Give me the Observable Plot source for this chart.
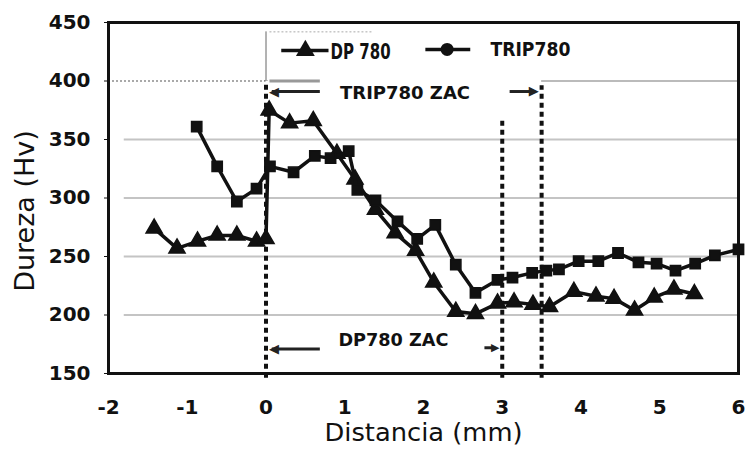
<!DOCTYPE html>
<html>
<head>
<meta charset="utf-8">
<script src="https://cdn.jsdelivr.net/npm/d3@7"></script>
<script src="https://cdn.jsdelivr.net/npm/@observablehq/plot@0.6"></script>
<style>
  html, body { margin: 0; padding: 0; background: #fff; }
</style>
</head>
<body>
<div id="chart"></div>
<script>
// ---- data ----
const xTicks = [-2, -1, 0, 1, 2, 3, 4, 5, 6];
const yTicks = [150, 200, 250, 300, 350, 400, 450];
const gridValues = [200, 250, 300, 350];

const seriesNames = ["DP 780", "TRIP780"];

const dpX = [-1.42, -1.13, -0.87, -0.62, -0.37, -0.12, 0.0, 0.04, 0.3, 0.6, 0.9, 1.13, 1.39, 1.64, 1.9, 2.13, 2.41, 2.66, 2.94, 3.15, 3.39, 3.6, 3.91, 4.19, 4.42, 4.68, 4.93, 5.18, 5.44];
const dpY = [274, 257, 263, 268, 268, 263, 265, 375, 364, 366, 338, 316, 290, 270, 255, 228, 203, 201, 210, 211, 209, 207, 220, 216, 214, 204, 215, 222, 218];

const trX = [-0.88, -0.62, -0.37, -0.12, 0.05, 0.35, 0.62, 0.82, 1.05, 1.16, 1.39, 1.67, 1.92, 2.15, 2.41, 2.66, 2.94, 3.13, 3.38, 3.56, 3.72, 3.97, 4.22, 4.47, 4.73, 4.96, 5.2, 5.45, 5.7, 6.0];
const trY = [361, 327, 297, 308, 327, 322, 336, 334, 340, 307, 298, 280, 265, 277, 243, 219, 230, 232, 236, 238, 239, 246, 246, 253, 245, 244, 238, 244, 251, 256];

const zoneLines = [0, 3, 3.5];           // vertical dashed lines (mm)
const zoneLabels = ["TRIP780 ZAC", "DP780 ZAC"];

const xLabel = "Distancia (mm)";
const yLabel = "Dureza (Hv)";

// ---- tables ----
const dp = dpX.map((x, i) => ({x, y: dpY[i]}));
const tr = trX.map((x, i) => ({x, y: trY[i]}));

const font = "'DejaVu Sans', 'Liberation Sans', sans-serif";
const ink = "#111";

const chart = Plot.plot({
  width: 749,
  height: 457,
  marginLeft: 108,
  marginRight: 11,
  marginTop: 22,
  marginBottom: 84,
  style: {fontFamily: font, background: "#fff", color: ink},
  x: {domain: [-2, 6]},
  y: {domain: [150, 450]},
  marks: [
    // grid
    Plot.ruleY(gridValues, {x1: -1.8, x2: 6, stroke: "#c4c4c4", strokeWidth: 2}),
    Plot.ruleY([400], {x1: -2, x2: 0, stroke: "#555", strokeWidth: 1.2, strokeDasharray: "2,2"}),
    Plot.ruleY([400], {x1: 3.5, x2: 6, stroke: "#bbb", strokeWidth: 2}),
    // legend gray bar and thin top line
    Plot.ruleY([400], {x1: 0.05, x2: 0.69, stroke: "#999", strokeWidth: 3}),
    Plot.ruleY([442], {x1: 0.05, x2: 1.35, stroke: "#aaa", strokeWidth: 1, strokeDasharray: "2,2"}),

    // vertical zone lines
    Plot.ruleX([zoneLines[0]], {y1: 146, y2: 400, stroke: ink, strokeWidth: 4, strokeDasharray: "5,4"}),
    Plot.ruleX([zoneLines[0]], {y1: 400, y2: 442, stroke: "#666", strokeWidth: 1}),
    Plot.ruleX([zoneLines[1]], {y1: 146, y2: 366, stroke: ink, strokeWidth: 4, strokeDasharray: "5,4"}),
    Plot.ruleX([zoneLines[2]], {y1: 146, y2: 396, stroke: ink, strokeWidth: 4, strokeDasharray: "5,4"}),

    // series
    Plot.line(dp, {x: "x", y: "y", stroke: ink, strokeWidth: 3.5}),
    Plot.dot(dp, {x: "x", y: "y", symbol: "triangle", r: 6, fill: ink, stroke: ink}),
    Plot.line(tr, {x: "x", y: "y", stroke: ink, strokeWidth: 3.5}),
    Plot.dot(tr, {x: "x", y: "y", symbol: "square", r: 5.8, fill: ink, stroke: ink}),

    // legend
    Plot.ruleY([426], {x1: 0.2, x2: 0.8, stroke: ink, strokeWidth: 3.5}),
    Plot.dot([{x: 0.5, y: 426}], {x: "x", y: "y", symbol: "triangle", r: 7, fill: ink}),
    Plot.text([seriesNames[0]], {x: 0.82, y: 425, textAnchor: "start", fontSize: 22, fontWeight: "bold", fill: ink, className: "lg-dp"}),
    Plot.ruleY([427], {x1: 2.03, x2: 2.6, stroke: ink, strokeWidth: 3.5}),
    Plot.dot([{x: 2.3, y: 427}], {x: "x", y: "y", symbol: "circle", r: 6.5, fill: ink}),
    Plot.text([seriesNames[1]], {x: 2.85, y: 427, textAnchor: "start", fontSize: 19, fontWeight: "bold", fill: ink, className: "lg-tr"}),

    // zone annotations (TRIP780 ZAC)
    Plot.ruleY([391], {x1: 0.08, x2: 0.69, stroke: "#222", strokeWidth: 3}),
    Plot.text(["◀"], {x: 0.1, y: 391, fontSize: 13, fill: "#222"}),
    Plot.text([zoneLabels[0]], {x: 0.94, y: 389.5, textAnchor: "start", fontSize: 17, fontWeight: "bold", fill: ink, className: "zl-tr"}),
    Plot.ruleY([391], {x1: 3.1, x2: 3.4, stroke: "#222", strokeWidth: 3}),
    Plot.text(["▶"], {x: 3.4, y: 391.5, fontSize: 13, fill: "#222"}),

    // zone annotations (DP780 ZAC)
    Plot.ruleY([171], {x1: 0.08, x2: 0.69, stroke: "#222", strokeWidth: 3}),
    Plot.text(["◀"], {x: 0.1, y: 171, fontSize: 13, fill: "#222"}),
    Plot.text([zoneLabels[1]], {x: 0.92, y: 178, textAnchor: "start", fontSize: 17, fontWeight: "bold", fill: ink, className: "zl-dp"}),
    Plot.ruleY([172], {x1: 2.78, x2: 2.9, stroke: "#222", strokeWidth: 3}),
    Plot.text(["▶"], {x: 2.91, y: 172.3, fontSize: 11, fill: "#222"}),

    // axes
    Plot.axisY({ticks: yTicks, tickSize: 4, tickPadding: 14, fontSize: 20, fontWeight: "bold", tickFormat: d => String(d), label: null}),
    Plot.axisX({ticks: xTicks, tickSize: 0, tickPadding: 26, fontSize: 20, fontWeight: "bold", tickFormat: d => String(d), label: null}),
    Plot.frame({stroke: ink, strokeWidth: 3}),

    // axis titles
    Plot.text([xLabel], {frameAnchor: "bottom", dy: 67, fontSize: 24, fill: ink, className: "ttl-x"}),
    Plot.text([yLabel], {frameAnchor: "left", textAnchor: "middle", dx: -83, dy: 13, rotate: -90, fontSize: 27, fill: ink})
  ]
});

// stretch a few texts to the widths seen in the reference
const fit = {"lg-dp": 60, "lg-tr": 80, "zl-tr": 130, "zl-dp": 110, "ttl-x": 198};
const svg = d3.select(chart.tagName.toLowerCase() === "svg" ? chart : chart.querySelector("svg"));
for (const [cls, len] of Object.entries(fit)) {
  svg.selectAll("g." + cls + " text").attr("textLength", len).attr("lengthAdjust", "spacingAndGlyphs");
}

document.getElementById("chart").appendChild(chart);
</script>
</body>
</html>
